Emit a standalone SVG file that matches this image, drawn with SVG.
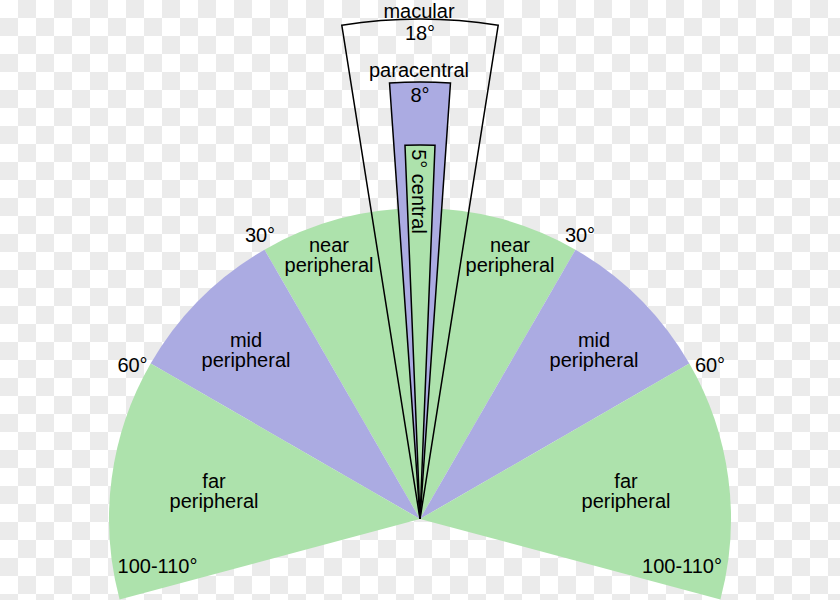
<svg xmlns="http://www.w3.org/2000/svg" width="840" height="600" viewBox="0 0 840 600">
<defs>
<pattern id="checker" width="36" height="36" patternUnits="userSpaceOnUse">
<rect width="36" height="36" fill="#ffffff"/>
<rect x="18" y="0" width="18" height="18" fill="#ebebeb"/>
<rect x="0" y="18" width="18" height="18" fill="#ebebeb"/>
</pattern>
<style>
.green{fill:#ade2ac;stroke:none}
.purple{fill:#ababe2;stroke:none}
.outline{fill:none;stroke:#000;stroke-width:1.5;stroke-linejoin:miter}
.lbl{font-family:"Liberation Sans",Arial,sans-serif;font-size:20px;fill:#000;text-anchor:middle}
</style>
</defs>
<rect width="840" height="600" fill="url(#checker)"/>
<g id="near-peripheral">
<path class="green" d="M420,519 L264.5,249.67 A311,311 0 0 1 575.5,249.67 Z"/>
<text class="lbl" x="329" y="252">near</text>
<text class="lbl" x="329" y="272">peripheral</text>
<text class="lbl" x="510" y="252">near</text>
<text class="lbl" x="510" y="272">peripheral</text>
</g>
<g id="mid-peripheral-left">
<path class="purple" d="M420,519 L150.67,363.5 A311,311 0 0 1 264.5,249.67 Z"/>
<text class="lbl" x="246" y="347">mid</text>
<text class="lbl" x="246" y="367">peripheral</text>
</g>
<g id="mid-peripheral-right">
<path class="purple" d="M420,519 L575.5,249.67 A311,311 0 0 1 689.33,363.5 Z"/>
<text class="lbl" x="594" y="347">mid</text>
<text class="lbl" x="594" y="367">peripheral</text>
</g>
<g id="far-peripheral-left">
<path class="green" d="M420,519 L119.59,599.49 A311,311 0 0 1 150.67,363.5 Z"/>
<text class="lbl" x="214" y="488">far</text>
<text class="lbl" x="214" y="508">peripheral</text>
</g>
<g id="far-peripheral-right">
<path class="green" d="M420,519 L689.33,363.5 A311,311 0 0 1 720.41,599.49 Z"/>
<text class="lbl" x="626" y="488">far</text>
<text class="lbl" x="626" y="508">peripheral</text>
</g>
<g id="macular">
<path class="outline" d="M420,519 L341.78,25.16 A500,500 0 0 1 498.22,25.16 Z"/>
<text class="lbl" x="419" y="18">macular</text>
<text class="lbl" x="420" y="40">18°</text>
</g>
<g id="paracentral">
<path class="outline" style="fill:#ababe2" d="M420,519 L389.52,83.06 A437,437 0 0 1 450.48,83.06 Z"/>
<text class="lbl" x="419" y="77">paracentral</text>
<text class="lbl" x="420" y="101.5">8°</text>
</g>
<g id="central">
<path class="outline" style="fill:#ade2ac" d="M420,519 L404.99,145.3 A374,374 0 0 1 435.01,145.3 Z"/>
<text class="lbl" transform="translate(412,191.5) rotate(90)">5° central</text>
</g>
<g id="angle-labels">
<text class="lbl" x="260" y="242">30°</text>
<text class="lbl" x="580" y="242">30°</text>
<text class="lbl" x="132.5" y="372">60°</text>
<text class="lbl" x="710" y="372">60°</text>
<text class="lbl" x="157.5" y="572.5">100-110°</text>
<text class="lbl" x="682" y="572.5">100-110°</text>
</g>
<g id="connectors"></g>
</svg>
